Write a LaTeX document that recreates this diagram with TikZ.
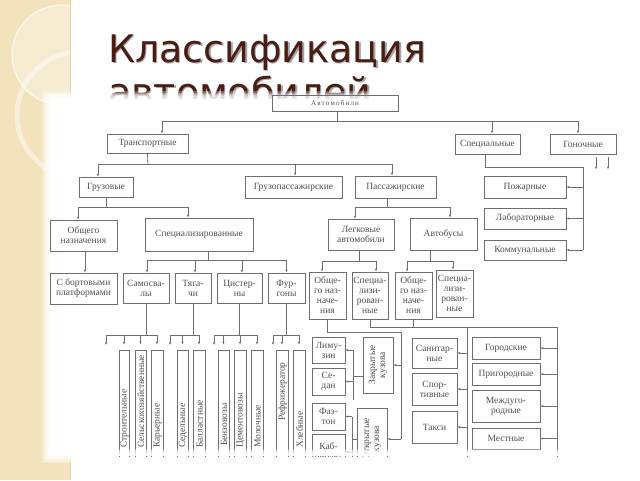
\documentclass[tikz,border=0pt]{standalone}
\usepackage{fontspec}
\setmainfont{Liberation Serif}
\newfontfamily\titlefont{DejaVu Sans}
\usetikzlibrary{arrows.meta,calc}
\definecolor{beige}{HTML}{F2E3BC}
\definecolor{ttl}{HTML}{4A1C12}
\definecolor{lnc}{HTML}{6E6E6E}
\definecolor{txc}{HTML}{4F4F4F}
\begin{document}
\begin{tikzpicture}[x=1pt,y=-1pt,
 ln/.style={draw=lnc, line width=0.8pt},
 arr/.style={ln, -{Latex[length=2.6pt,width=2.2pt]}},
 sz/.style 2 args={minimum width=#1pt, minimum height=#2pt},
 bx/.style={draw=lnc, line width=0.9pt, text=txc, inner sep=0pt, align=center, font=\fontsize{9.5}{10}\selectfont},
 colbox/.style={draw=lnc, line width=0.9pt, inner sep=0pt},
 lbl/.style={text=txc, inner sep=0pt, font=\fontsize{9.5}{10}\selectfont, rotate=90, anchor=west},
 ttxt/.style={anchor=base west, inner sep=0pt, font=\titlefont\fontsize{38}{44}\selectfont},
]
\useasboundingbox (0,0) rectangle (640,480);
% left strip
\fill[beige] (0,0) rectangle (70,480);
\begin{scope}
\clip (0,0) rectangle (70,480);
\fill[white,opacity=0.3] (62,55) circle[radius=50pt];
\draw[white,opacity=0.7,line width=1.2pt] (62,55) circle[radius=50pt];
\draw[white,opacity=0.45,line width=5pt] (80,115) circle[radius=63pt];
\end{scope}
\draw[beige!85!brown, line width=0.6pt] (70,0) -- (70,480);
% title
\node[ttxt, text=black!70, opacity=0.5] (t1s) at (109.5,63.5) {Классификация};
\node[ttxt, text=ttl] (t1) at (108,62) {Классификация};
\node[ttxt, text=black!70, opacity=0.5] (t2s) at (109.5,106.5) {автомобилей};
\node[ttxt, text=ttl] (t2) at (108,105) {автомобилей};
% white scan sheet
\foreach \i in {6,...,1} \fill[white,opacity=0.3] ({50-1.3*\i},{99-1.3*\i}) rectangle ({614+1.3*\i},{455+1.3*\i});
\fill[white] (50,99) rectangle (614,455);

\begin{scope}
\clip (44,90) rectangle (626,456);
% boxes
\node[bx, sz={126}{16}, font=\fontsize{7}{8}\selectfont] (auto) at (335,103) {А\,в\,т\,о\,м\,о\,б\,и\,л\,и};
\node[bx, sz={81}{19}] (trans) at (147.5,143.5) {Транспортные};
\node[bx, sz={65}{20}] (spec) at (487.5,144) {Специальные};
\node[bx, sz={66}{20}] (gon) at (583,144) {Гоночные};
\node[bx, sz={54}{20}] (gruz) at (106,187) {Грузовые};
\node[bx, sz={97}{22}] (gp) at (293.5,187) {Грузопассажирские};
\node[bx, sz={81}{22}] (pass) at (395.5,187) {Пассажирские};
\node[bx, sz={82}{22}] (pozh) at (525,187) {Пожарные};
\node[bx, sz={82}{21}] (lab) at (525,218.5) {Лабораторные};
\node[bx, sz={82}{20}] (komm) at (525,250) {Коммунальные};
\node[bx, sz={67}{31}] (obsch) at (83.5,235.5) {Общего\\назначения};
\node[bx, sz={108}{33}] (spz) at (199,234.5) {Специализированные};
\node[bx, sz={66}{31}] (legk) at (361,234.5) {Легковые\\автомобили};
\node[bx, sz={67}{32}] (avt) at (443.5,234) {Автобусы};
\node[bx, sz={67}{31}] (bort) at (83.5,288.5) {С бортовыми\\платформами};
\node[bx, sz={46}{30}] (samos) at (146,288) {Самосва-\\лы};
\node[bx, sz={36}{30}] (tyag) at (193,288) {Тяга-\\чи};
\node[bx, sz={45}{30}] (cist) at (239.5,288) {Цистер-\\ны};
\node[bx, sz={37}{30}] (furg) at (286.5,288) {Фур-\\гоны};
\node[bx, sz={37}{47}] (lo) at (327.5,295.5) {Обще-\\го наз-\\наче-\\ния};
\node[bx, sz={36}{47}] (ls) at (370,295.5) {Специа-\\лизи-\\рован-\\ные};
\node[bx, sz={37}{47}] (ao) at (413.5,295.5) {Обще-\\го наз-\\наче-\\ния};
\node[bx, sz={37}{47}] (as) at (454.5,293.5) {Специа-\\лизи-\\рован-\\ные};
\node[bx, sz={33}{26}] (limo) at (328.5,350) {Лиму-\\зин};
\node[bx, sz={33}{27}] (sedan) at (328.5,381.5) {Се-\\дан};
\node[bx, sz={33}{27}] (faet) at (328.5,416.5) {Фаэ-\\тон};
\node[bx, sz={33}{35}] (kabr) at (328.5,452) {Каб-\\риолет};
\node[bx, sz={56}{30}, rotate=90] (zakr) at (378,365) {Закрытые\\кузова};
\node[bx, sz={62}{30}, rotate=90] (otkr) at (372,439) {Открытые\\кузова};
\node[bx, sz={45}{30}] (sanit) at (434.5,353) {Санитар-\\ные};
\node[bx, sz={45}{32}] (sport) at (434.5,389) {Спор-\\тивные};
\node[bx, sz={45}{32}] (taxi) at (434.5,427) {Такси};
\node[bx, sz={68}{22}] (gorod) at (506,348) {Городские};
\node[bx, sz={68}{22}] (prig) at (506,374) {Пригородные};
\node[bx, sz={68}{32}] (mezh) at (506,406) {Междуго-\\родные};
\node[bx, sz={68}{21}] (mest) at (506,438.5) {Местные};
% columns
\node[colbox, sz={10}{120}] (c1) at (124,410) {};
\node[colbox, sz={11}{120}] (c2) at (140.5,410) {};
\node[colbox, sz={12}{120}] (c3) at (157,410) {};
\node[colbox, sz={11}{120}] (c4) at (182.5,410) {};
\node[colbox, sz={12}{120}] (c5) at (199,410) {};
\node[colbox, sz={11}{120}] (c6) at (223.5,410) {};
\node[colbox, sz={12}{120}] (c7) at (240,410) {};
\node[colbox, sz={12}{120}] (c8) at (257,410) {};
\node[colbox, sz={12}{120}] (c9) at (282,410) {};
\node[colbox, sz={12}{120}] (c10) at (299,410) {};
\node[lbl] (l1) at (124.5,448) {Строительные};
\node[lbl] (l2) at (141,448) {Сельскохозяйственные};
\node[lbl] (l3) at (157.5,448) {Карьерные};
\node[lbl] (l4) at (183,448) {Седельные};
\node[lbl] (l5) at (199.5,448) {Балластные};
\node[lbl] (l6) at (224,446) {Бензовозы};
\node[lbl] (l7) at (240.5,448) {Цементовозы};
\node[lbl] (l8) at (257.5,448) {Молочные};
\node[lbl] (l9) at (282.5,421) {Рефрижератор};
\node[lbl] (l10) at (299.5,448) {Хлебные};

% connectors: top level
\coordinate (t0) at (337,121);
\draw[ln] (auto.south -| t0) -- (t0);
\draw[arr] (t0) -| ([xshift=14.5pt]trans.north);
\draw[arr] (t0) -| ([xshift=4.5pt]spec.north);
\draw[arr] (t0) -| ([xshift=-5pt]gon.north);
% transport
\coordinate (tr) at (148,164);
\draw[ln] (trans.south) -- (tr);
\draw[arr] (tr) -| ([xshift=-8pt]gruz.north);
\draw[arr] (tr) -| ([xshift=1.5pt]gp.north);
\draw[arr] (tr) -| ([xshift=-3.5pt]pass.north);
% special
\coordinate (s1) at (583,167);
\draw[ln] ([xshift=-2.5pt]spec.south) |- (s1) -- (s1 |- komm.east);
\draw[arr] (s1 |- pozh.east) -- (pozh.east);
\draw[arr] (s1 |- lab.east) -- (lab.east);
\draw[arr] (s1 |- komm.east) -- (komm.east);
% racing
\draw[arr] ([xshift=13pt,yshift=-3pt]gon.south) -- ++(0,12);
\draw[arr] ([xshift=25pt,yshift=-3pt]gon.south) -- ++(0,12);
% trucks
\coordinate (g1) at (106,207);
\draw[ln] (gruz.south) -- (g1);
\draw[arr] (g1) -| ([xshift=-5.5pt]obsch.north);
\draw[arr] (g1) -| ([xshift=-11pt]spz.north);
\draw[arr] ([xshift=1.5pt]obsch.south) -- ([xshift=1.5pt]bort.north);
\coordinate (z1) at (208,260);
\draw[ln] ([xshift=9pt]spz.south) -- (z1);
\draw[arr] (z1) -| ([xshift=1pt]samos.north);
\draw[arr] (z1) -| ([xshift=2pt]tyag.north);
\draw[arr] (z1) -| ([xshift=2.5pt]cist.north);
\draw[arr] (z1) -| (furg.north);
% passenger
\coordinate (p1) at (387,207);
\draw[ln] ([xshift=-8.5pt]pass.south) -- (p1);
\draw[arr] (p1) -| ([xshift=-6pt]legk.north);
\draw[arr] (p1) -| ([xshift=6.5pt]avt.north);
\coordinate (lg) at (359,261);
\draw[ln] ([xshift=-2pt]legk.south) -- (lg);
\draw[arr] (lg) -| ([xshift=-5.5pt]lo.north);
\draw[arr] (lg) -| ([xshift=6pt]ls.north);
\coordinate (av) at (430,261);
\draw[ln] ([xshift=-13.5pt]avt.south) -- (av);
\draw[arr] (av) -| ([xshift=-6.5pt]ao.north);
\draw[arr] (av) -| ([xshift=-1.5pt]as.north);
% column buses
\coordinate (sm) at (146,335);
\coordinate (sm0) at (106,345);
\draw[ln] (samos.south) -- (sm);
\draw[arr] (sm) -| (sm0);
\draw[arr] (sm) -| ([yshift=5pt]c1.north);
\draw[arr] (sm) -| ([yshift=5pt]c2.north);
\draw[arr] (sm) -| ([yshift=5pt]c3.north);
\coordinate (ty) at (193,335);
\coordinate (ty0) at (170,345);
\draw[ln] (tyag.south) -- (ty);
\draw[arr] (ty) -| (ty0);
\draw[arr] (ty) -| ([yshift=5pt]c4.north);
\draw[arr] (ty) -| ([yshift=5pt]c5.north);
\coordinate (ci) at (239.5,335);
\coordinate (ci0) at (214,345);
\draw[ln] (cist.south) -- (ci);
\draw[arr] (ci) -| (ci0);
\draw[arr] (ci) -| ([yshift=5pt]c6.north);
\draw[arr] (ci) -| ([yshift=5pt]c7.north);
\draw[arr] (ci) -| ([yshift=5pt]c8.north);
\coordinate (fu) at (286.5,335);
\coordinate (fu0) at (273,345);
\draw[ln] (furg.south) -- (fu);
\draw[arr] (fu) -| (fu0);
\draw[arr] (fu) -| ([yshift=5pt]c9.north);
\draw[arr] (fu) -| ([yshift=5pt]c10.north);
% cars general
\coordinate (q1) at (401,332);
\draw[ln] (lo.south) |- (q1) -- (q1 |- otkr.south);
\draw[arr] (q1 |- zakr.south) -- (zakr.south);
\draw[arr] (q1 |- otkr.south) -- (otkr.south);
\coordinate (k1) at (353,376);
\coordinate (k0) at (353,400);
\draw[ln] (zakr.north |- k1) -- (k1);
\draw[ln] (k1 |- limo.east) -- (k0);
\draw[arr] (k1 |- limo.east) -- (limo.east);
\draw[arr] (k1 |- sedan.east) -- (sedan.east);
\coordinate (k2) at (352,439);
\coordinate (k3) at (352,470);
\draw[ln] (otkr.north) -- (k2);
\draw[ln] (k2 |- faet.east) -- (k3);
\draw[arr] (k2 |- faet.east) -- (faet.east);
\draw[arr] (k2 |- kabr.east) -- (kabr.east);
% special cars / buses
\coordinate (r1) at (467,327);
\coordinate (r2) at (557,327);
\coordinate (r1b) at (467,470);
\coordinate (r2b) at (557,470);
\draw[ln] (ls.south) |- (r2) -- (r2b);
\draw[ln] (ao.south) -- (ao.south |- r1);
\draw[ln] (r1) -- (r1b);
\draw[arr] (r1 |- sanit.east) -- (sanit.east);
\draw[arr] (r1 |- sport.east) -- (sport.east);
\draw[arr] (r1 |- taxi.east) -- (taxi.east);
\draw[arr] (r2 |- gorod.east) -- (gorod.east);
\draw[arr] (r2 |- prig.east) -- (prig.east);
\draw[arr] (r2 |- mezh.east) -- (mezh.east);
\draw[arr] (r2 |- mest.east) -- (mest.east);
\end{scope}
% bottom fade of the scan
\foreach \i in {0,...,7} \fill[white,opacity=0.3] (48,{449+\i}) rectangle (626,456);
\end{tikzpicture}
\end{document}
